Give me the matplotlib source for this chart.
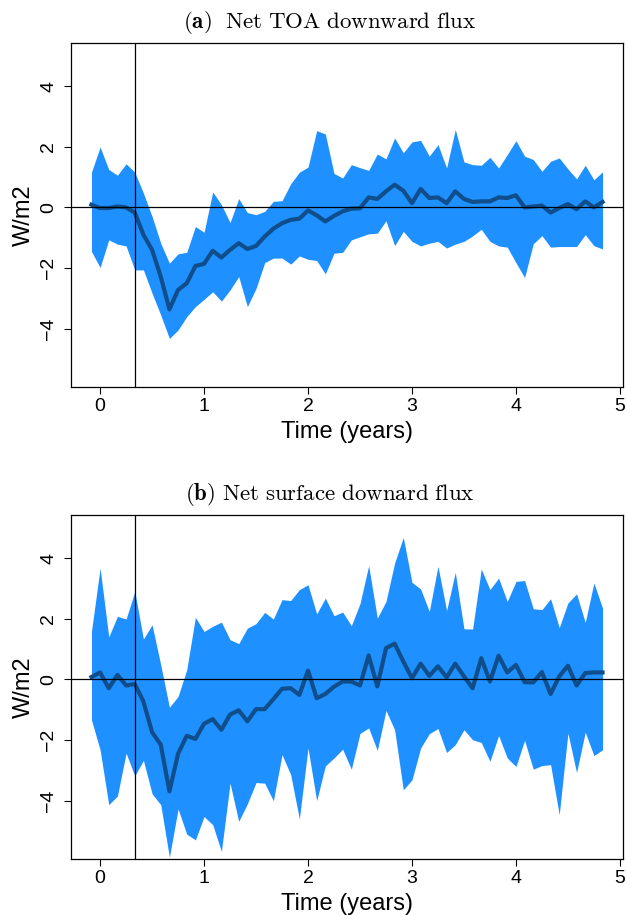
import numpy as np
import matplotlib.pyplot as plt

plt.rcParams['font.family'] = ['Liberation Sans', 'DejaVu Sans']
plt.rcParams['mathtext.fontset'] = 'cm'

# monthly values, first month at -1/12 years
months = np.arange(60)
time_years = (months - 1) / 12
event_time = 4 / 12

toa_mean = [0.09, -0.02, -0.02, 0.03, 0.0, -0.17, -0.9, -1.4, -2.28, -3.36,
            -2.72, -2.5, -1.93, -1.86, -1.43, -1.65, -1.4, -1.18, -1.37, -1.27,
            -0.96, -0.7, -0.52, -0.41, -0.37, -0.1, -0.26, -0.46, -0.28, -0.13,
            -0.04, -0.03, 0.33, 0.28, 0.53, 0.75, 0.55, 0.14, 0.61, 0.31,
            0.33, 0.14, 0.53, 0.28, 0.18, 0.2, 0.2, 0.33, 0.31, 0.4,
            0.0, 0.03, 0.06, -0.17, -0.02, 0.11, -0.06, 0.2, 0.0, 0.18]
toa_upper = [1.16, 1.99, 1.25, 1.06, 1.44, 1.16, 0.47, -0.3, -1.18, -1.84,
             -1.53, -1.48, -0.63, -0.82, 0.51, 0.09, -0.5, 0.29, -0.17, -0.24,
             -0.13, 0.2, 0.22, 0.78, 1.16, 1.33, 2.53, 2.42, 1.12, 0.97,
             1.41, 1.31, 1.22, 1.76, 1.6, 2.29, 1.8, 2.16, 2.21, 1.69,
             2.07, 1.3, 2.57, 1.5, 1.41, 1.39, 1.65, 1.3, 1.74, 2.2,
             1.69, 1.58, 1.19, 1.52, 1.63, 1.27, 0.94, 1.39, 0.91, 1.17]
toa_lower = [-1.45, -1.98, -1.07, -1.21, -1.27, -2.06, -2.06, -2.83, -3.55, -4.32,
             -4.04, -3.6, -3.27, -3.03, -2.78, -3.09, -2.72, -2.28, -3.27, -2.67,
             -1.82, -1.67, -1.67, -1.87, -1.6, -1.71, -1.75, -2.19, -1.51, -1.48,
             -1.07, -0.97, -0.87, -0.85, -0.44, -1.26, -0.79, -1.12, -1.27, -1.18,
             -1.12, -1.34, -1.21, -1.12, -0.94, -0.72, -1.12, -1.27, -1.31, -1.82,
             -2.31, -1.2, -0.93, -1.31, -1.29, -1.29, -1.29, -0.9, -1.26, -1.37]

sfc_mean = [0.08, 0.23, -0.29, 0.15, -0.2, -0.15, -0.73, -1.74, -2.15, -3.69,
            -2.45, -1.86, -1.96, -1.46, -1.31, -1.66, -1.16, -1.02, -1.38, -0.98,
            -0.98, -0.65, -0.31, -0.29, -0.51, 0.29, -0.62, -0.48, -0.24, -0.07,
            -0.07, -0.2, 0.79, -0.23, 1.03, 1.18, 0.59, 0.04, 0.52, 0.12,
            0.43, 0.07, 0.52, 0.1, -0.29, 0.7, -0.07, 0.78, 0.23, 0.48,
            -0.09, -0.1, 0.24, -0.48, 0.1, 0.45, -0.2, 0.21, 0.23, 0.23]
sfc_upper = [1.58, 3.67, 1.4, 2.08, 1.99, 2.9, 1.33, 1.8, 0.48, -0.92,
             -0.56, 0.32, 2.05, 1.58, 1.75, 1.89, 1.31, 1.18, 1.69, 1.84,
             2.21, 1.99, 2.63, 2.6, 2.96, 3.12, 2.16, 2.68, 2.1, 2.22,
             1.77, 2.5, 3.75, 2.02, 2.57, 3.84, 4.68, 3.2, 2.98, 2.24,
             3.73, 2.27, 3.53, 1.67, 1.66, 3.64, 2.96, 3.34, 2.57, 3.23,
             3.26, 2.33, 2.3, 2.66, 1.71, 2.52, 2.82, 1.88, 3.18, 2.35]
sfc_lower = [-1.33, -2.32, -4.13, -3.84, -2.43, -3.18, -2.67, -3.77, -4.13, -5.86,
             -4.27, -5.1, -5.29, -4.52, -4.79, -5.67, -3.42, -4.68, -4.1, -3.4,
             -3.42, -4.0, -2.48, -3.14, -4.6, -2.26, -4.0, -2.85, -2.59, -2.3,
             -2.96, -1.78, -1.6, -2.34, -1.02, -1.66, -3.64, -3.31, -2.26, -1.79,
             -1.62, -2.41, -2.15, -1.66, -1.99, -2.08, -2.7, -1.85, -2.59, -2.87,
             -2.01, -2.96, -2.84, -2.81, -4.46, -1.77, -3.07, -1.74, -2.51, -2.32]

titles = [r'$\mathbf{(a)}\ \ \mathrm{Net\ TOA\ downward\ flux}$',
          r'$\mathbf{(b)}\ \mathrm{Net\ surface\ downard\ flux}$']

fig = plt.figure(figsize=(6.27, 9.15), dpi=100)

panels = [(toa_mean, toa_upper, toa_lower), (sfc_mean, sfc_upper, sfc_lower)]
axes_pos = [[71/627, 1-387/915, 552/627, 344/915],
            [71/627, 1-859/915, 552/627, 344/915]]
title_y = [1-23/915, 1-494/915]

for (mean, upper, lower), pos, title, ty in zip(panels, axes_pos, titles, title_y):
    ax = fig.add_axes(pos)
    ax.fill_between(time_years, lower, upper, color='#1E90FF', lw=0)
    ax.plot(time_years, mean, color='#104E8B', lw=3)
    ax.axhline(0, color='black', lw=0.9)
    ax.axvline(event_time, color='black', lw=0.9)
    ax.set_xlim(-0.28, 5.03)
    ax.set_ylim(-5.92, 5.42)
    ax.set_xticks([0, 1, 2, 3, 4, 5])
    ax.set_yticks([-4, -2, 0, 2, 4])
    ax.set_yticklabels(['\u22124', '\u22122', '0', '2', '4'], rotation=90, va='center')
    ax.tick_params(length=5, width=0.8, labelsize=14, pad=3)
    ax.tick_params(axis='y', pad=5)
    ax.set_xlabel('Time (years)', fontsize=17, labelpad=4)
    ax.set_ylabel('W/m2', fontsize=17, labelpad=4)
    for s in ax.spines.values():
        s.set_linewidth(0.9)
    fig.text(330/627, ty, title, ha='center', va='center', fontsize=16.5)

fig.savefig('out.png', dpi=100)
